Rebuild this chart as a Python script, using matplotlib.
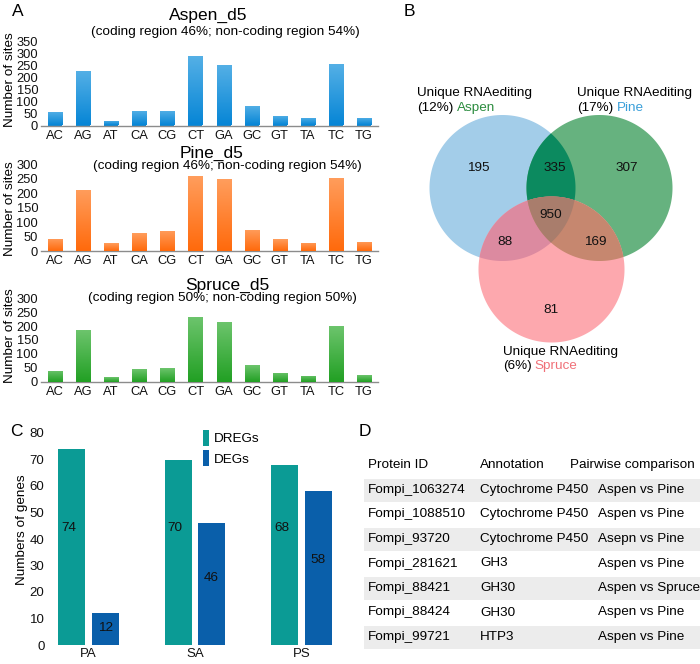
import numpy as np
import matplotlib.pyplot as plt
from matplotlib.patches import Polygon, Rectangle, Patch
from matplotlib.colors import LinearSegmentedColormap

plt.rcParams['font.family'] = ['Liberation Sans', 'DejaVu Sans']

# data
sites = ['AC', 'AG', 'AT', 'CA', 'CG', 'CT', 'GA', 'GC', 'GT', 'TA', 'TC', 'TG']
aspen_sites = [55, 226, 20, 60, 61, 290, 252, 80, 41, 31, 257, 31]
pine_sites = [42, 212, 27, 62, 70, 258, 248, 73, 40, 28, 253, 32]
spruce_sites = [40, 187, 16, 46, 50, 233, 213, 59, 33, 22, 200, 24]

venn_counts = {'A': 195, 'P': 307, 'S': 81, 'AP': 335, 'AS': 88, 'PS': 169, 'APS': 950}

comparisons = ['PA', 'SA', 'PS']
dregs = [74, 70, 68]
degs = [12, 46, 58]

protein_ids = ['Fompi_1063274', 'Fompi_1088510', 'Fompi_93720', 'Fompi_281621',
               'Fompi_88421', 'Fompi_88424', 'Fompi_99721']
annotations = ['Cytochrome P450', 'Cytochrome P450', 'Cytochrome P450', 'GH3',
               'GH30', 'GH30', 'HTP3']
pairwise = ['Aspen vs Pine', 'Aspen vs Pine', 'Asepn vs Pine', 'Aspen vs Pine',
            'Aspen vs Spruce', 'Aspen vs Pine', 'Aspen vs Pine']

W, H = 700, 664
fig = plt.figure(figsize=(W / 100, H / 100), dpi=100)
FS = 9.7


def px_axes(x0, y0, x1, y1):
    return fig.add_axes([x0 / W, 1 - y1 / H, (x1 - x0) / W, (y1 - y0) / H])


def ftext(x, y, s, **kw):
    return fig.text(x / W, 1 - y / H, s, **kw)


# ---------- panel A ----------
panels = [
    ('Aspen_d5', '(coding region 46%; non-coding region 54%)', aspen_sites, 350,
     (41.7, 125.5), (208, 15), (225, 32), 80, '#55b0e6', '#0786d6'),
    ('Pine_d5', '(coding region 46%; non-coding region 54%)', pine_sites, 300,
     (164.3, 251), (212, 153), (227, 166), 209, '#ff9d5c', '#ff6a0c'),
    ('Spruce_d5', '(coding region 50%; non-coding region 50%)', spruce_sites, 300,
     (298.3, 381.7), (227, 285), (222, 298), 336, '#6cc46c', '#22a024'),
]
for title, sub, vals, ymax, (top, bot), tpos, spos, ylab_y, c_top, c_bot in panels:
    ax = px_axes(41, top, 378, bot)
    x = np.arange(len(sites))
    bars = ax.bar(x, vals, width=0.5, color=c_bot, zorder=2)
    cmap = LinearSegmentedColormap.from_list('g', [c_bot, c_top])
    grad = np.linspace(1, 0, 50).reshape(-1, 1)
    for b in bars:
        im = ax.imshow(grad, extent=[b.get_x(), b.get_x() + b.get_width(), 0, b.get_height()],
                       cmap=cmap, aspect='auto', zorder=3)
        im.set_clip_path(b)
    ax.set_xlim(-0.5, len(sites) - 0.5)
    ax.set_ylim(0, ymax)
    ax.set_yticks(np.arange(0, ymax + 1, 50))
    ax.set_xticks(x)
    ax.set_xticklabels(sites)
    ax.tick_params(length=0, labelsize=9.3, colors='#111111')
    ax.tick_params(axis='y', pad=2)
    ax.tick_params(axis='x', pad=3)
    for s in ['top', 'right', 'left']:
        ax.spines[s].set_visible(False)
    ax.spines['bottom'].set_color('#8c8c8c')
    ax.spines['bottom'].set_linewidth(1.0)
    ftext(tpos[0], tpos[1], title, ha='center', va='center', fontsize=12.5)
    ftext(spos[0], spos[1], sub, ha='center', va='center', fontsize=FS)
    ftext(10, ylab_y, 'Number of sites', rotation=90, ha='center', va='center', fontsize=FS)

ftext(18, 11, 'A', ha='center', va='center', fontsize=12.5)
ftext(409, 11, 'B', ha='center', va='center', fontsize=12.5)
ftext(16, 432, 'C', ha='center', va='center', fontsize=12.5)
ftext(365, 431, 'D', ha='center', va='center', fontsize=12.5)

# ---------- panel B (Venn) ----------
vax = px_axes(400, 60, 700, 400)
vax.set_xlim(400, 700)
vax.set_ylim(400, 60)
vax.axis('off')


def circle_poly(cx, cy, r, n=360):
    t = np.linspace(0, 2 * np.pi, n, endpoint=False)
    return np.column_stack([cx + r * np.cos(t), cy + r * np.sin(t)])


def clip_poly(subject, clipper):
    # Sutherland-Hodgman for convex clipper (counter-clockwise)
    def inside(p, a, b):
        return (b[0] - a[0]) * (p[1] - a[1]) - (b[1] - a[1]) * (p[0] - a[0]) >= 0

    def inter(p1, p2, a, b):
        d1 = p2 - p1
        d2 = b - a
        den = d1[0] * d2[1] - d1[1] * d2[0]
        t = ((a[0] - p1[0]) * d2[1] - (a[1] - p1[1]) * d2[0]) / den
        return p1 + t * d1

    out = list(subject)
    for i in range(len(clipper)):
        a, b = clipper[i], clipper[(i + 1) % len(clipper)]
        inp = out
        out = []
        if not inp:
            break
        s = inp[-1]
        for e in inp:
            if inside(e, a, b):
                if not inside(s, a, b):
                    out.append(inter(s, e, a, b))
                out.append(e)
            elif inside(s, a, b):
                out.append(inter(s, e, a, b))
            s = e
    return np.array(out)


R = 73
cA = circle_poly(502.5, 188, R)
cP = circle_poly(599.5, 188, R)
cS = circle_poly(551.5, 269.5, R)
cAP = clip_poly(cA, cP)
cAS = clip_poly(cA, cS)
cPS = clip_poly(cP, cS)
cAPS = clip_poly(cAP, cS)
for poly, col in [(cA, '#a3cde9'), (cP, '#66b27f'), (cS, '#fda8ae'),
                  (cAP, '#0c8a5f'), (cAS, '#dc8aa0'), (cPS, '#c6876f'), (cAPS, '#a97d6c')]:
    vax.add_patch(Polygon(poly, closed=True, facecolor=col, edgecolor='none'))

num_pos = {'A': (478, 168), 'AP': (555, 168), 'P': (627, 168), 'APS': (551, 215),
           'AS': (505, 242), 'PS': (595, 242), 'S': (551, 310)}
for k, (x, y) in num_pos.items():
    vax.text(x, y, str(venn_counts[k]), ha='center', va='center', fontsize=9.7, color='#111111')

for (x, y, pct, name, col) in [(416.7, 93.3, '(12%)', 'Aspen', '#2b8c3e'),
                               (576.7, 93.3, '(17%)', 'Pine', '#3a9fd9'),
                               (502.7, 351.7, '(6%)', 'Spruce', '#f07078')]:
    vax.text(x, y, 'Unique RNAediting', ha='left', va='center', fontsize=FS)
    t1 = vax.text(x, y + 14.5, pct, ha='left', va='center', fontsize=FS)
    vax.annotate(name, xy=(1, 0), xycoords=t1, xytext=(2.5, 0), textcoords='offset points',
                 ha='left', va='bottom', fontsize=FS, color=col)

# ---------- panel C ----------
cax = px_axes(50, 433, 340, 645)
xc = np.arange(len(comparisons))
bw = 0.254
off = 0.157
cax.bar(xc - off, dregs, width=bw, color='#0b9b95', label='DREGs')
cax.bar(xc + off, degs, width=bw, color='#0a5faa', label='DEGs')
for i in range(len(comparisons)):
    cax.text(xc[i] - off - 0.03, 44, str(dregs[i]), ha='center', va='center', fontsize=FS,
             color='#111111')
    cax.text(xc[i] + off, degs[i] * 0.55, str(degs[i]), ha='center', va='center', fontsize=FS,
             color='#111111')
cax.set_xlim(-0.36, 2.36)
cax.set_ylim(0, 80)
cax.set_yticks(np.arange(0, 81, 10))
cax.set_xticks(xc)
cax.set_xticklabels(comparisons)
cax.tick_params(length=0, labelsize=9.5, colors='#111111')
cax.tick_params(axis='y', pad=4)
cax.tick_params(axis='x', pad=2)
for s in cax.spines.values():
    s.set_visible(False)
ftext(22, 530, 'Numbers of genes', rotation=90, ha='center', va='center', fontsize=FS)
handles = [Patch(facecolor='#0b9b95'), Patch(facecolor='#0a5faa')]
fig.legend(handles, ['DREGs', 'DEGs'], loc='upper left',
           bbox_to_anchor=(203 / W, 1 - 430 / H), frameon=False, fontsize=FS,
           handlelength=0.45, handleheight=1.4, handletextpad=0.35, labelspacing=0.35,
           borderaxespad=0, borderpad=0)

# ---------- panel D (table) ----------
tax = px_axes(360, 440, 700, 664)
tax.set_xlim(360, 700)
tax.set_ylim(664, 440)
tax.axis('off')
col_x = [368, 480, 598]
tax.text(col_x[0], 465, 'Protein ID', ha='left', va='center', fontsize=FS)
tax.text(col_x[1], 465, 'Annotation', ha='left', va='center', fontsize=FS)
tax.text(570, 465, 'Pairwise comparison', ha='left', va='center', fontsize=FS)
for i in range(len(protein_ids)):
    y = 490 + 24.5 * i
    if i % 2 == 0:
        tax.add_patch(Rectangle((364, y - 11.5), 336, 23, facecolor='#ececec', edgecolor='none'))
    tax.text(col_x[0], y, protein_ids[i], ha='left', va='center', fontsize=FS)
    tax.text(col_x[1], y, annotations[i], ha='left', va='center', fontsize=FS)
    tax.text(col_x[2], y, pairwise[i], ha='left', va='center', fontsize=FS)

fig.savefig('out.png', dpi=100)
